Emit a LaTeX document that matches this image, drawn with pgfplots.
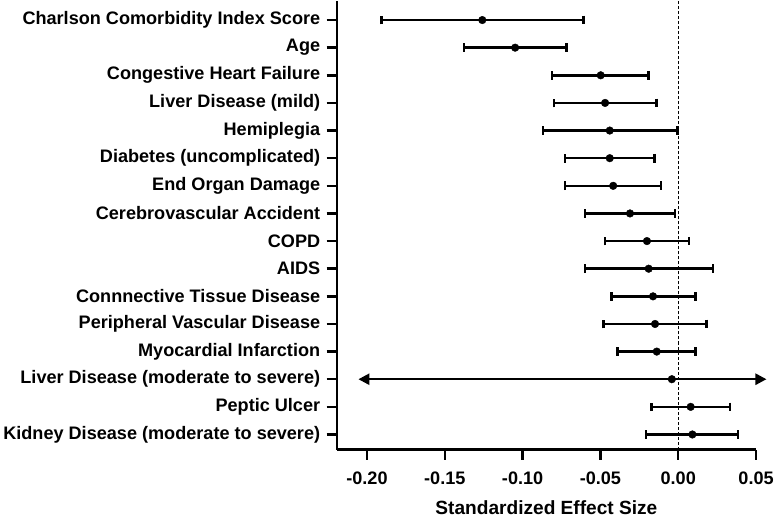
\documentclass[border=0pt]{standalone}
\usepackage{pgfplots}
\pgfplotsset{compat=1.18}
\usepackage{pgfplotstable}
\usepackage{fontspec}
\setmainfont{Liberation Sans}
\usetikzlibrary{arrows.meta}

\pgfplotstableread{
y   m        lo       hi
16  -0.1259  -0.1908  -0.0608
15  -0.1048  -0.1378  -0.0718
14  -0.0498  -0.0811  -0.0190
13  -0.0470  -0.0798  -0.0140
12  -0.0440  -0.0869  -0.0005
11  -0.0440  -0.0729  -0.0151
10  -0.0418  -0.0729  -0.0110
9   -0.0310  -0.0600  -0.0021
8   -0.0201  -0.0470   0.0069
7   -0.0190  -0.0600   0.0222
6   -0.0162  -0.0429   0.0110
5   -0.0149  -0.0481   0.0181
4   -0.0138  -0.0390   0.0112
2    0.0080  -0.0173   0.0332
1    0.0091  -0.0207   0.0384
}\forest

\begin{document}
\begin{tikzpicture}
\begin{axis}[
  scale only axis,
  width=417bp, height=446bp,
  xmin=-0.2194, xmax=0.05,
  ymin=0.45, ymax=16.68,
  axis lines=left,
  axis line style={-, line width=2.5bp, black},
  clip=false,
  tick align=outside,
  major tick length=10bp,
  tick style={line width=2.5bp, black},
  xtick={-0.2,-0.15,-0.1,-0.05,0,0.05},
  ytick={1,...,16},
  yticklabels={Kidney Disease (moderate to severe),Peptic Ulcer,Liver Disease (moderate to severe),Myocardial Infarction,Peripheral Vascular Disease,Connnective Tissue Disease,AIDS,COPD,Cerebrovascular Accident,End Organ Damage,Diabetes (uncomplicated),Hemiplegia,Liver Disease (mild),Congestive Heart Failure,Age,Charlson Comorbidity Index Score},
  /pgf/number format/.cd, fixed, fixed zerofill, precision=2, assume math mode=true,
  /pgfplots/.cd,
  ticklabel style={font=\fontsize{18bp}{21bp}\selectfont\bfseries},
  xticklabel style={yshift=-9bp},
  yticklabel style={xshift=-3bp},
  xlabel={Standardized Effect Size},
  xlabel style={font=\fontsize{19bp}{22bp}\selectfont\bfseries, yshift=-9bp},
]
\addplot[densely dashed, line width=1bp, black] coordinates {(0,0.45) (0,16.68)};
\addplot[only marks, mark=*, mark size=3.8bp, black,
  error bars/.cd, x dir=both, x explicit,
  error mark options={rotate=90, mark size=4.3bp, line width=2.5bp, black},
  error bar style={line width=2.5bp, black}]
  table[x=m, y=y,
        x error plus expr=\thisrow{hi}-\thisrow{m},
        x error minus expr=\thisrow{m}-\thisrow{lo}] {\forest};
\addplot[line width=2.5bp, black, -{Triangle[length=11bp,width=11bp]}] coordinates {(-0.0041,3) (-0.2055,3)};
\addplot[line width=2.5bp, black, -{Triangle[length=11bp,width=11bp]}] coordinates {(-0.0041,3) (0.0567,3)};
\addplot[only marks, mark=*, mark size=3.8bp, black] coordinates {(-0.0041,3)};
\end{axis}
\end{tikzpicture}
\end{document}
